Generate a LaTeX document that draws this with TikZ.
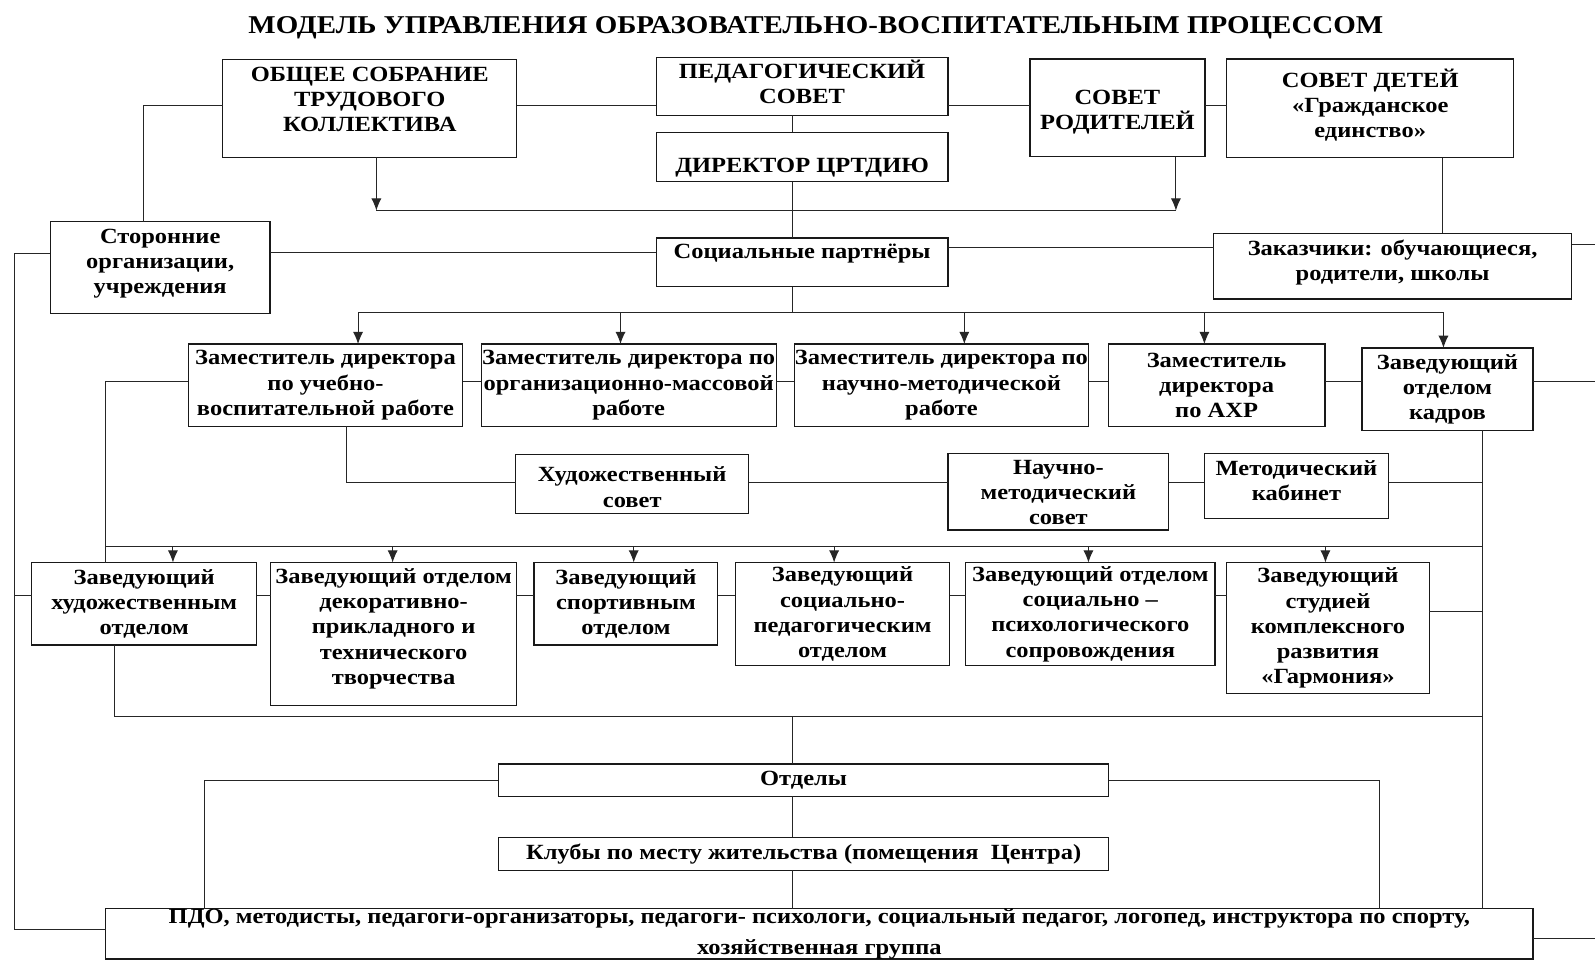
\documentclass[tikz,border=0pt]{standalone}
\usepackage{fontspec}
\setmainfont{Liberation Serif}[FakeStretch=1.13]
\usetikzlibrary{positioning,arrows.meta}

\newcommand\padlo[1]{\rule[-#1]{0pt}{#1}}
\newcommand\padhi[1]{\rule{0pt}{#1}}

\begin{document}
\begin{tikzpicture}[x=1pt,y=-1pt,
    box/.style={draw=black!90, line width=1.2pt, inner sep=0pt, outer sep=0pt, align=center,
      font=\fontsize{21.3}{24.8}\selectfont\bfseries},
    wire/.style={draw=black!85, line width=1pt},
    arr/.style={wire, -{Latex[length=12pt,width=10pt]}}]
\useasboundingbox (0,0) rectangle (1568,946);

\node[font=\fontsize{25.2}{29}\selectfont\bfseries] (title) at (802,27.4) {МОДЕЛЬ УПРАВЛЕНИЯ ОБРАЗОВАТЕЛЬНО-ВОСПИТАТЕЛЬНЫМ ПРОЦЕССОМ};

% top row
\node[box, minimum width=289, minimum height=96] (obs) at (363.5,106.5) {ОБЩЕЕ СОБРАНИЕ\\ТРУДОВОГО\\КОЛЛЕКТИВА\padlo{18pt}};
\node[box, minimum width=287, minimum height=57] (ped) at (788.5,85) {ПЕДАГОГИЧЕСКИЙ\\СОВЕТ\padlo{9pt}};
\node[box, minimum width=287, minimum height=48.5, below=16.5pt of ped] (dir) {\padhi{35.6pt}ДИРЕКТОР ЦРТДИЮ};
\node[box, minimum width=172, minimum height=96] (rod) at (1098.5,106) {\padhi{22pt}СОВЕТ\\РОДИТЕЛЕЙ};
\node[box, minimum width=282, minimum height=97] (det) at (1347,106.5) {СОВЕТ ДЕТЕЙ\\«Гражданское\\единство»\padlo{10pt}};
\node[box, minimum width=216, minimum height=90] (sto) at (157.5,263) {Сторонние\\организации,\\учреждения\padlo{12.6pt}};
\node[box, minimum width=287, minimum height=48, below=55.5pt of dir] (sop) {Социальные партнёры\padlo{22.7pt}};
\node[box, minimum width=352, minimum height=64.6] (zak) at (1369,261.7) {Заказчики: обучающиеся,\\родители, школы\padlo{11.5pt}};

% deputies
\node[box, minimum width=270, minimum height=81] (zuvr) at (320,378.7) {Заместитель директора\\по учебно-\\воспитательной работе};
\node[box, minimum width=290, minimum height=81, right=18pt of zuvr] (zom) {Заместитель директора по\\организационно-массовой\\работе};
\node[box, minimum width=289, minimum height=81, right=18pt of zom] (znm) {Заместитель директора по\\научно-методической\\работе};
\node[box, minimum width=213, minimum height=81, right=19.5pt of znm] (zahr) {Заместитель\\директора\\по АХР};
\node[box, minimum width=168, minimum height=81] (zkd) at (1423,382.5) {Заведующий\\отделом\\кадров};

% councils
\node[box, minimum width=229, minimum height=58] (hs) at (621.5,476) {\padhi{20.3pt}Художественный\\совет};
\node[box, minimum width=217, minimum height=75.4] (nms) at (1040.5,483.3) {\padhi{15.6pt}Научно-\\методический\\совет};
\node[box, minimum width=181, minimum height=64.4] (mk) at (1274.5,477.8) {Методический\\кабинет\padlo{10.2pt}};

% heads of departments
\node[box, minimum width=221, minimum height=81, anchor=north west] (o1) at (31.3,553) {Заведующий\\художественным\\отделом};
\node[box, minimum width=241.3, minimum height=140.7, right=14pt of o1.north east, anchor=north west] (o2) {Заведующий отделом\\декоративно-\\прикладного и\\технического\\творчества\padlo{15.2pt}};
\node[box, minimum width=180.7, minimum height=81, right=17.4pt of o2.north east, anchor=north west] (o3) {Заведующий\\спортивным\\отделом};
\node[box, minimum width=210.6, minimum height=101.4, right=17.3pt of o3.north east, anchor=north west] (o4) {Заведующий\\социально-\\педагогическим\\отделом};
\node[box, minimum width=245.3, minimum height=101.4, right=15.6pt of o4.north east, anchor=north west] (o5) {Заведующий отделом\\социально –\\психологического\\сопровождения};
\node[box, minimum width=199, minimum height=129, right=11.5pt of o5.north east, anchor=north west] (o6) {Заведующий\\студией\\комплексного\\развития\\«Гармония»};

% bottom
\node[box, minimum width=600, minimum height=32] (otd) at (790,767) {Отделы};
\node[box, minimum width=600, minimum height=32.5, below=40pt of otd] (klb) {Клубы по месту жительства (помещения~ Центра)};
\node[box, minimum width=1403, minimum height=45, font=\fontsize{21.3}{30.4}\selectfont\bfseries] (pdo) at (805.5,918) {ПДО, методисты, педагоги-организаторы, педагоги- психологи, социальный педагог, логопед, инструктора по спорту,\\хозяйственная группа};

\coordinate (spine) at (779,0);
\coordinate (redge) at (1568,0);
\coordinate (ledge) at (13.8,0);

% links of the top row
\draw[wire] (obs.east |- 0,103.5) -- (ped.west |- 0,103.5);
\draw[wire] (ped.east |- 0,103.5) -- (rod.west |- 0,103.5);
\draw[wire] (rod.east |- 0,103.5) -- (det.west |- 0,103.5);
\draw[wire] (obs.west |- 0,104) -| (sto.north -| 141.5,0);
\draw[wire] (ped.south -| spine) -- (dir.north -| spine);
\draw[wire] (dir.south -| spine) -- (sop.north -| spine);
\draw[wire] (370,207) -- (1156,207);
\draw[arr] (obs.south -| 370,0) -- (370,207);
\draw[arr] (rod.south -| 1156,0) -- (1156,207);
\draw[wire] (sto.east |- 0,248) -- (sop.west |- 0,248);
\draw[wire] (sop.east |- 0,243.5) -- (zak.west |- 0,243.5);
\draw[wire] (det.south -| 1418,0) -- (zak.north -| 1418,0);
\draw[wire] (zak.east |- 0,240) -- (redge |- 0,240);
\draw[wire] (sto.west |- 0,249) -- (ledge |- 0,249) |- (pdo.west |- 0,914);

% deputies
\draw[wire] (sop.south -| spine) -- (spine |- 0,307);
\draw[wire] (352,307) -- (1419,307);
\foreach \x/\n in {352/zuvr, 610/zom, 948/znm, 1184/zahr, 1419/zkd}
  \draw[arr] (\x,307) -- (\n.north -| \x,0);
\foreach \a/\b in {zuvr/zom, zom/znm, znm/zahr, zahr/zkd}
  \draw[wire] (\a.east |- 0,375) -- (\b.west |- 0,375);
\draw[wire] (zuvr.west |- 0,375) -| (o1.north -| 104,0);
\draw[wire] (zkd.east |- 0,375) -- (redge |- 0,375);
\draw[wire] (zkd.south -| 1457,0) -- (pdo.north -| 1457,0);

% councils
\draw[wire] (zuvr.south -| 341,0) |- (hs.west |- 0,474);
\draw[wire] (hs.east |- 0,474) -- (nms.west |- 0,474);
\draw[wire] (nms.east |- 0,474) -- (mk.west |- 0,474);
\draw[wire] (mk.east |- 0,474) -- (1457,474);

% departments
\draw[wire] (104,537) -- (1457,537);
\foreach \x/\n in {170/o1, 386/o2, 623/o3, 820/o4, 1070/o5, 1303/o6}
  \draw[arr] (\x,537) -- (\n.north -| \x,0);
\foreach \a/\b in {o1/o2, o2/o3, o3/o4, o4/o5, o5/o6}
  \draw[wire] (\a.east |- 0,585) -- (\b.west |- 0,585);
\draw[wire] (o1.west |- 0,585) -- (ledge |- 0,585);
\draw[wire] (o6.east |- 0,601) -- (1457,601);
\draw[wire] (o1.south -| 113,0) |- (1457,704);

% bottom
\draw[wire] (spine |- 0,704) -- (otd.north -| spine);
\draw[wire] (otd.south -| spine) -- (klb.north -| spine);
\draw[wire] (klb.south -| spine) -- (pdo.north -| spine);
\draw[wire] (otd.west) -| (pdo.north -| 200.6,0);
\draw[wire] (otd.east) -| (pdo.north -| 1356,0);
\draw[wire] (pdo.east |- 0,923) -- (redge |- 0,923);
\end{tikzpicture}
\end{document}
